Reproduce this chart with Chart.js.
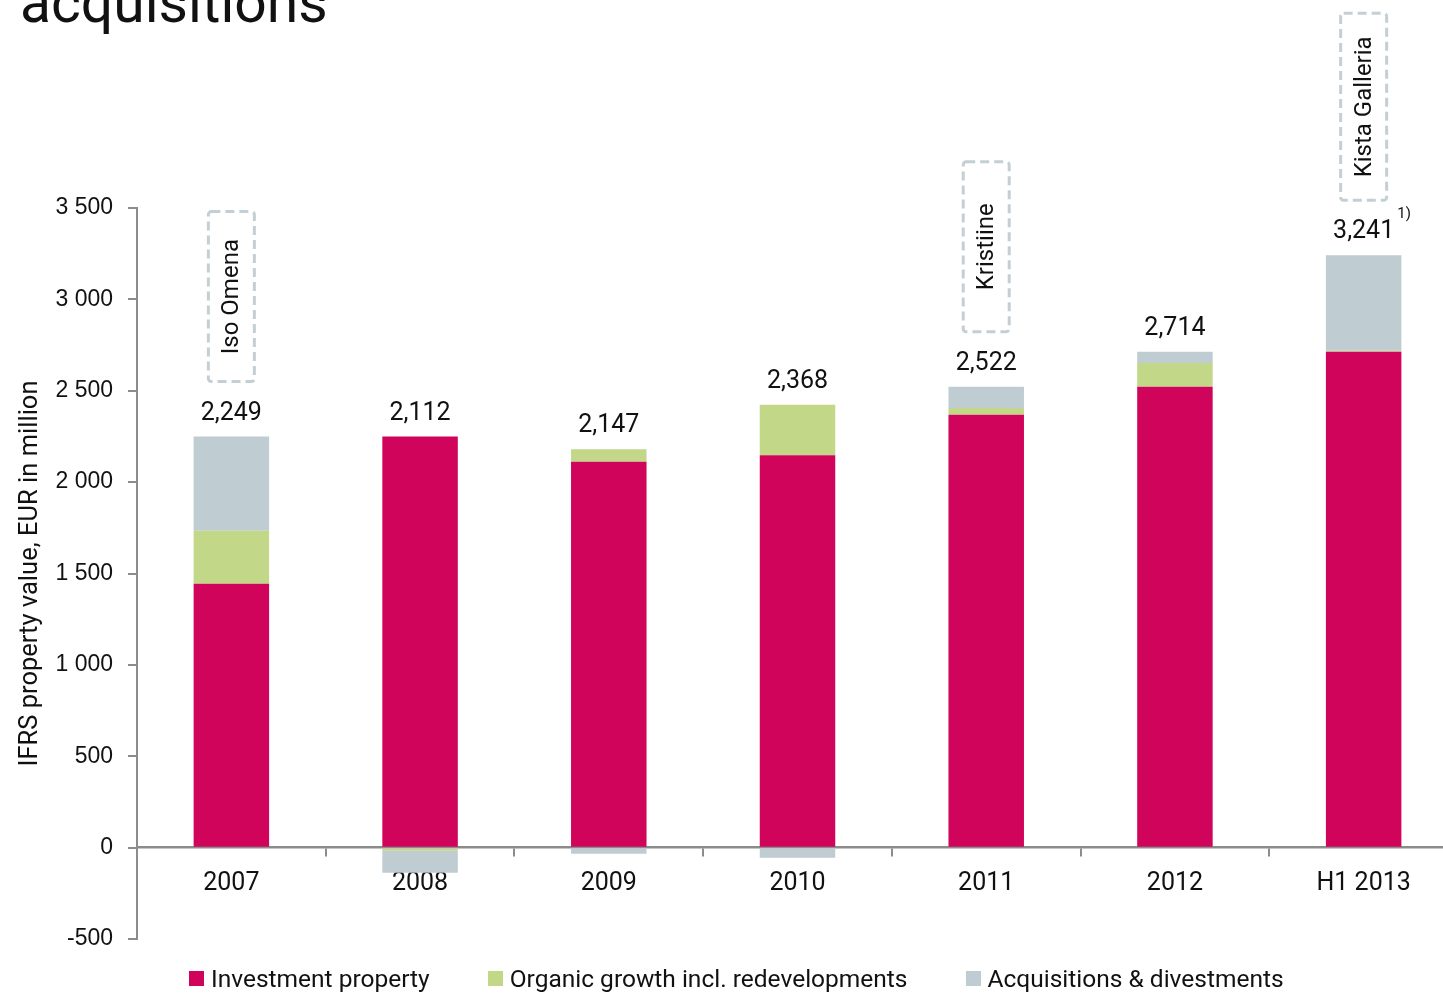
<!DOCTYPE html>
<html>
<head>
<meta charset="utf-8">
<title>IFRS property value</title>
<script src="https://cdn.jsdelivr.net/npm/chart.js@4.4.0/dist/chart.umd.min.js"></script>
<style>
  html, body { margin: 0; padding: 0; background: #fff; overflow: hidden; }
  #wrap { position: relative; width: 1443px; height: 995px; overflow: hidden; }
  #heading { position: absolute; left: 20px; top: -26px; margin: 0; font: 400 57px Roboto, sans-serif; line-height: 1; color: #111; white-space: nowrap; }
  #chartBox { position: absolute; left: 0; top: 0; width: 1458px; height: 995px; }
  #legend { position: absolute; left: 189px; top: 964px; display: flex; align-items: center; font: 400 24.5px Roboto, sans-serif; color: #111; white-space: nowrap; }
  #legend .item { display: flex; align-items: center; margin-right: 58px; }
  #legend .swatch { width: 15px; height: 15px; margin-right: 7px; }
</style>
</head>
<body>
<div id="wrap">
  <h1 id="heading">acquisitions</h1>
  <div id="chartBox"><canvas id="valueChart"></canvas></div>
  <div id="legend"></div>
</div>
<script>
// Property value by year, EUR million
const categories = ['2007', '2008', '2009', '2010', '2011', '2012', 'H1 2013'];
const investmentProperty = [1444, 2249, 2112, 2147, 2368, 2522, 2714];
const organicGrowth = [290, -17, 68, 276, 38, 130, 5];
const acquisitionsDivestments = [515, -120, -33, -55, 116, 62, 522];
const totals = [2249, 2112, 2147, 2368, 2522, 2714, 3241];
const yTicks = [-500, 0, 500, 1000, 1500, 2000, 2500, 3000, 3500];

// Shopping centres acquired, flagged above the year they were bought
const callouts = [
  { index: 0, text: 'Iso Omena' },
  { index: 4, text: 'Kristiine' },
  { index: 6, text: 'Kista Galleria' }
];
const footnotes = { 6: '1)' };

const COLORS = {
  invest: '#d0045a',
  organic: '#c2d787',
  acq: '#bfcdd2',
  axis: '#8c8c8c',
  text: '#111111',
  dash: '#c3cfd4'
};

const groupThousands = v => String(v).replace(/\B(?=(\d{3})+(?!\d))/g, ' ');
const withComma = v => String(v).replace(/\B(?=(\d{3})+(?!\d))/g, ',');

// Totals, callout boxes and footnote mark above each bar
const annotate = {
  id: 'annotate',
  afterDatasetsDraw(chart) {
    const { ctx, scales: { x, y } } = chart;
    ctx.save();
    ctx.fillStyle = COLORS.text;
    ctx.textAlign = 'center';
    ctx.textBaseline = 'alphabetic';

    const labelBase = [];
    totals.forEach((total, i) => {
      const posTop = [investmentProperty[i], organicGrowth[i], acquisitionsDivestments[i]]
        .filter(v => v > 0).reduce((a, b) => a + b, 0);
      const px = x.getPixelForValue(i);
      const base = y.getPixelForValue(posTop) - 17;
      labelBase[i] = base;
      ctx.font = '25px Roboto';
      ctx.fillText(withComma(total), px, base);
      if (footnotes[i]) {
        const w = ctx.measureText(withComma(total)).width;
        ctx.font = '15px Roboto';
        ctx.textAlign = 'left';
        ctx.fillText(footnotes[i], px + w / 2 + 3, base - 20);
        ctx.textAlign = 'center';
      }
    });

    callouts.forEach(c => {
      const px = x.getPixelForValue(c.index);
      ctx.font = '24px Roboto';
      const tw = ctx.measureText(c.text).width;
      const h = Math.max(170, tw + 46);
      const bottom = labelBase[c.index] - 20 - 18;
      const top = bottom - h;
      ctx.strokeStyle = COLORS.dash;
      ctx.lineWidth = 3;
      ctx.setLineDash([9, 5]);
      ctx.beginPath();
      ctx.roundRect(px - 23, top, 46, h, 3);
      ctx.stroke();
      ctx.setLineDash([]);

      ctx.save();
      ctx.translate(px, top + h / 2);
      ctx.rotate(-Math.PI / 2);
      ctx.textBaseline = 'middle';
      ctx.fillText(c.text, 0, 1);
      ctx.restore();
    });
    ctx.restore();
  }
};

const datasets = [
  { label: 'Investment property', data: investmentProperty, backgroundColor: COLORS.invest },
  { label: 'Organic growth incl. redevelopments', data: organicGrowth, backgroundColor: COLORS.organic },
  { label: 'Acquisitions & divestments', data: acquisitionsDivestments, backgroundColor: COLORS.acq }
];

new Chart(document.getElementById('valueChart'), {
  type: 'bar',
  data: { labels: categories, datasets },
  options: {
    responsive: true,
    maintainAspectRatio: false,
    animation: false,
    devicePixelRatio: 1,
    layout: { padding: { top: 208, left: 0, right: 0, bottom: 56 } },
    datasets: { bar: { barPercentage: 0.4, categoryPercentage: 1 } },
    plugins: {
      legend: { display: false },
      tooltip: { enabled: false }
    },
    scales: {
      x: {
        stacked: true,
        position: { y: 0 },
        z: 1,
        border: { color: COLORS.axis, width: 2.5 },
        grid: { offset: true, drawOnChartArea: false, drawTicks: true, tickLength: 8, color: COLORS.axis, lineWidth: 2 },
        ticks: { color: COLORS.text, font: { family: 'Roboto', size: 25 }, padding: 13, maxRotation: 0 }
      },
      y: {
        stacked: true,
        min: -500,
        max: 3500,
        afterFit: scale => { scale.width = 137; },
        afterBuildTicks: scale => { scale.ticks = yTicks.map(v => ({ value: v })); },
        border: { color: COLORS.axis, width: 2 },
        grid: { drawOnChartArea: false, drawTicks: true, tickLength: 9, color: COLORS.axis, lineWidth: 2 },
        ticks: {
          color: COLORS.text,
          font: { family: 'Liberation Sans', size: 23 },
          padding: 15,
          callback: v => groupThousands(v)
        },
        title: {
          display: true,
          text: 'IFRS property value, EUR in million',
          color: COLORS.text,
          font: { family: 'Roboto', size: 25.5 },
          padding: { top: 15, bottom: 0 }
        }
      }
    }
  },
  plugins: [annotate]
});

// Legend row from the dataset labels and colours
const legend = document.getElementById('legend');
datasets.forEach(ds => {
  const item = document.createElement('div');
  item.className = 'item';
  item.innerHTML = `<span class="swatch" style="background:${ds.backgroundColor}"></span><span>${ds.label}</span>`;
  legend.appendChild(item);
});
</script>
</body>
</html>
